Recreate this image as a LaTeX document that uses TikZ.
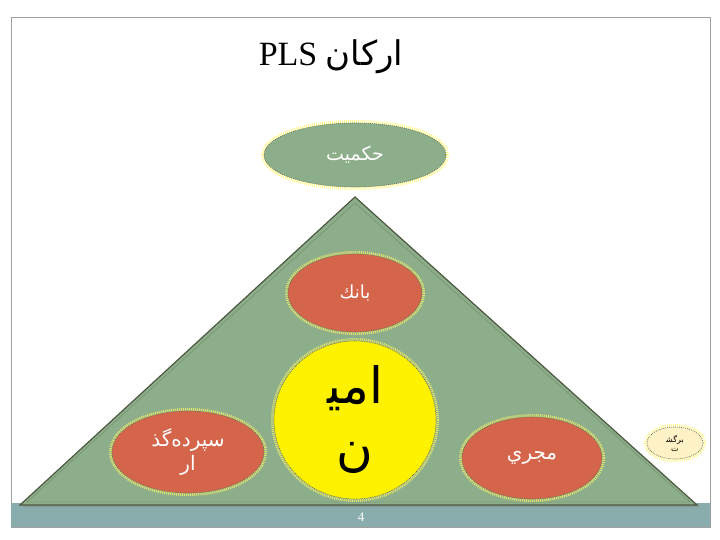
\documentclass[tikz,border=0pt]{standalone}
\usepackage{fontspec}
\setmainfont{Liberation Serif}
\newfontfamily\arabicfont[Script=Arabic]{DejaVu Sans}
\TeXXeTstate=1
\usetikzlibrary{shapes.geometric,shadows}
\definecolor{sage}{RGB}{141,174,138}
\definecolor{brick}{RGB}{213,101,74}
\definecolor{cream}{RGB}{255,242,198}
\definecolor{slatebar}{RGB}{137,172,172}
\definecolor{framegray}{RGB}{160,160,160}
\definecolor{rimdark}{RGB}{96,110,80}
\begin{document}
\begin{tikzpicture}[x=1pt, y=-1pt]
\tikzset{
  glow/.style = {ellipse, inner sep=0pt, align=center, text=white,
    preaction={draw=yellow!60!white, line width=6pt, opacity=0.75},
    draw=rimdark, dash pattern=on 1pt off 1pt, line width=0.6pt},
  pyramid/.style = {fill=sage, draw=rimdark!80!black, line width=1.2pt,
    drop shadow={shadow xshift=2pt, shadow yshift=-2pt, opacity=0.4}},
}
\useasboundingbox (0,0) rectangle (720,540);
% slide frame and footer bar
\fill[white] (0,0) rectangle (720,540);
\draw[framegray, line width=0.8pt] (11,17) rectangle (710,527);
\fill[slatebar] (11,503) rectangle (710,527);
\node[text=white, font=\fontsize{13}{15}\selectfont] (pagenum) at (361,517) {4};
% title
\node[font=\fontsize{34}{40}\selectfont] (title) at (331,57)
  {\beginR{\arabicfont ارکان} \beginL{}PLS\endL\endR};
% pyramid
\draw[pyramid] (355,197) -- (697,505) -- (20,505) -- cycle;
\draw[rimdark!60!sage, line width=0.4pt] (355,203) -- (690,502) -- (27,502) -- cycle;
% ellipses
\node[glow, fill=sage, minimum width=182pt, minimum height=64pt,
  font=\arabicfont\fontsize{19}{22}\selectfont] (hakamiyat) at (355,155)
  {\beginR حکمیت\endR};
\node[glow, fill=brick, minimum width=134pt, minimum height=78pt,
  font=\arabicfont\fontsize{18}{22}\selectfont] (bank) at (355,293)
  {\beginR بانك\endR};
\node[glow, fill=yellow, text=black, minimum width=162pt, minimum height=158pt,
  font=\arabicfont\fontsize{50}{66}\selectfont] (amin) at (355,420)
  {\beginR امی‍\endR\\[-4pt]\beginR ن\endR};
\node[glow, fill=brick, minimum width=152pt, minimum height=82pt,
  font=\arabicfont\fontsize{20}{24}\selectfont] (seporde) at (188,452)
  {\beginR سپرده‌گذ\endR\\\beginR ار\endR};
\node[glow, fill=brick, minimum width=140pt, minimum height=82pt,
  font=\arabicfont\fontsize{20}{24}\selectfont] (mojri) at (532,458)
  {\beginR مجري\endR};
\node[glow, fill=cream, text=black, minimum width=56pt, minimum height=32pt,
  preaction={draw=cream!60!white, line width=2pt},
  font=\arabicfont\fontsize{8}{9}\selectfont] (bazgasht) at (675,443)
  {\beginR برگش‍\endR\\\beginR ت\endR};
\end{tikzpicture}
\end{document}
